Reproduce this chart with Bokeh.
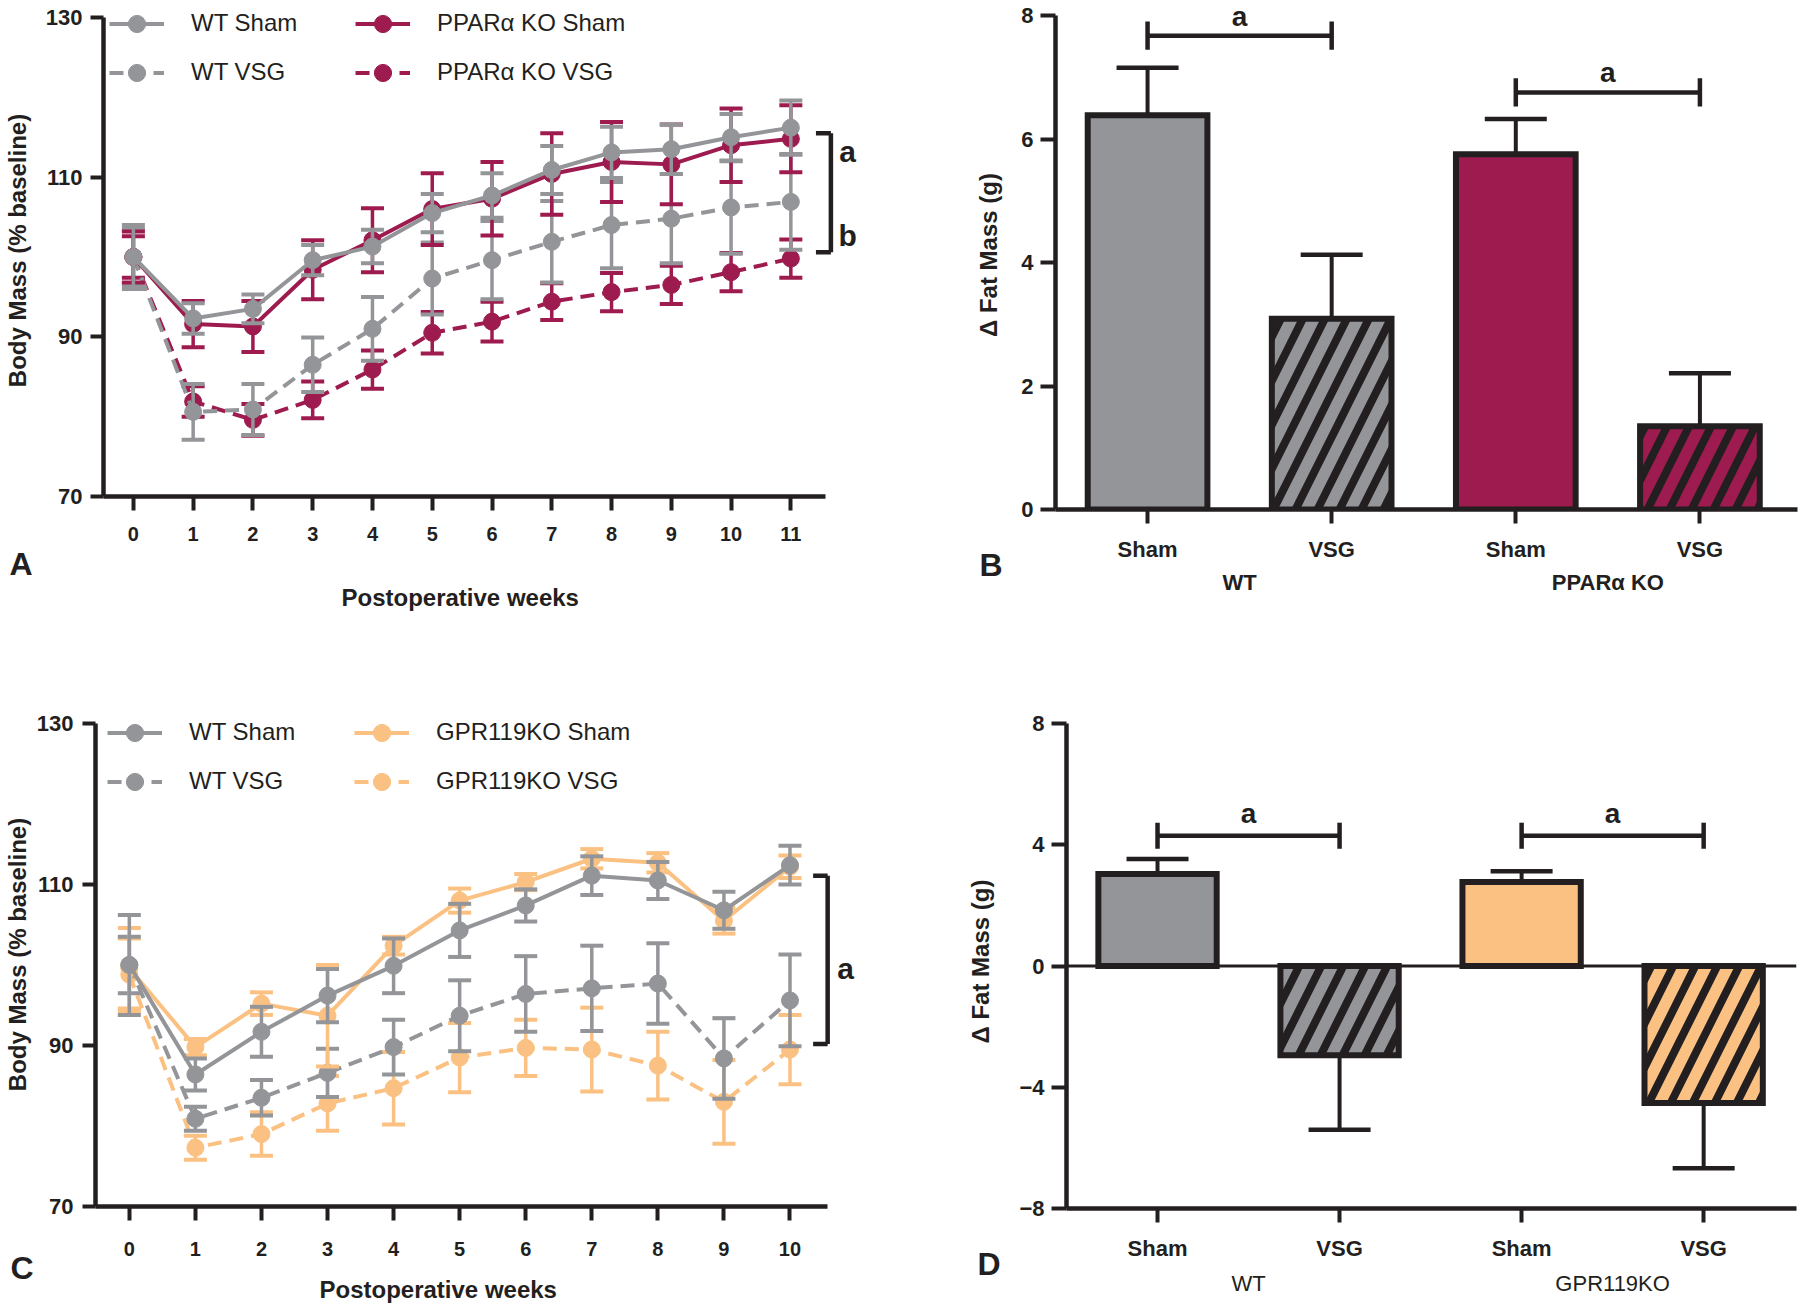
from bokeh.plotting import figure
from bokeh.layouts import column, row
from bokeh.models import Legend, LegendItem, FixedTicker, LinearAxis, Span, Title
from bokeh.embed import file_html
from bokeh.resources import INLINE
from bokeh.core.properties import value

# ---------------- data ----------------
weeks_A = [0, 1, 2, 3, 4, 5, 6, 7, 8, 9, 10, 11]
wt_sham_A = [100.0, 92.3, 93.5, 99.6, 101.3, 105.5, 107.7, 110.9, 113.1, 113.5, 115.0, 116.2]
wt_sham_A_err = [4.0, 1.9, 1.8, 1.9, 2.1, 2.4, 2.8, 3.0, 3.2, 3.1, 2.9, 3.4]
ko_sham_A = [100.0, 91.6, 91.3, 98.4, 102.1, 106.0, 107.3, 110.4, 111.9, 111.6, 114.0, 114.8]
ko_sham_A_err = [3.2, 2.9, 3.2, 3.7, 4.0, 4.5, 4.6, 5.1, 5.0, 5.0, 4.6, 4.2]
wt_vsg_A = [100.0, 80.6, 80.9, 86.5, 91.0, 97.3, 99.6, 101.9, 104.0, 104.8, 106.2, 106.9]
wt_vsg_A_err = [3.5, 3.5, 3.2, 3.4, 4.0, 4.5, 4.9, 5.1, 5.4, 5.6, 5.8, 6.0]
ko_vsg_A = [100.0, 81.9, 79.6, 82.1, 85.9, 90.5, 91.9, 94.4, 95.6, 96.5, 98.1, 99.8]
ko_vsg_A_err = [2.6, 1.9, 2.0, 2.3, 2.4, 2.6, 2.5, 2.3, 2.4, 2.4, 2.4, 2.4]

weeks_C = [0, 1, 2, 3, 4, 5, 6, 7, 8, 9, 10]
wt_sham_C = [100.0, 86.4, 91.7, 96.2, 99.9, 104.3, 107.4, 111.1, 110.5, 106.8, 112.4]
wt_sham_C_err = [6.2, 2.0, 3.1, 3.3, 3.4, 3.3, 2.0, 2.4, 2.3, 2.3, 2.4]
ko_sham_C = [99.6, 89.8, 95.2, 93.7, 102.4, 108.0, 110.3, 113.2, 112.7, 105.5, 112.2]
ko_sham_C_err = [5.0, 1.0, 1.4, 6.3, 1.1, 1.5, 1.0, 1.2, 1.2, 1.6, 1.4]
wt_vsg_C = [100.0, 80.9, 83.5, 86.6, 89.8, 93.7, 96.4, 97.1, 97.7, 88.4, 95.6]
wt_vsg_C_err = [3.5, 1.5, 2.2, 3.0, 3.4, 4.4, 4.7, 5.3, 5.0, 5.0, 5.7]
ko_vsg_C = [98.8, 77.3, 79.0, 82.8, 84.7, 88.5, 89.7, 89.5, 87.5, 83.0, 89.5]
ko_vsg_C_err = [4.5, 1.5, 2.7, 3.4, 4.5, 4.3, 3.5, 5.2, 4.2, 5.2, 4.3]

bar_labels = ["Sham", "VSG", "Sham", "VSG"]
groups_B = ["WT", "PPARα KO"]
fat_B = [6.39, 3.09, 5.76, 1.35]
fat_B_err = [0.77, 1.04, 0.57, 0.86]
groups_D = ["WT", "GPR119KO"]
fat_D = [3.04, -2.94, 2.77, -4.52]
fat_D_err = [0.49, 2.46, 0.36, 2.15]

# ---------------- style ----------------
INK = "#231f20"
GRAY = "#939598"
CRIMSON = "#9e1b4f"
ORANGE = "#fbc182"
FONT = "Liberation Sans"
DASH = "14 8"


def make_fig(w, h, xr, yr, left, right, top, bottom):
    p = figure(width=w, height=h, x_range=xr, y_range=yr,
               min_border_left=left, min_border_right=right,
               min_border_top=top, min_border_bottom=bottom,
               output_backend="svg", toolbar_location=None,
               outline_line_color=None, background_fill_color="white",
               border_fill_color="white")
    p.frame_align = False
    p.xgrid.visible = False
    p.ygrid.visible = False
    return p


def style_axis(ax, tick_size="21px", label_size="24px", tick_out=14, standoff=8, label_standoff=10):
    ax.axis_line_width = 4.5
    ax.axis_line_color = INK
    ax.major_tick_line_width = 4
    ax.major_tick_line_color = INK
    ax.major_tick_in = 0
    ax.major_tick_out = tick_out
    ax.minor_tick_line_color = None
    ax.major_label_text_font = FONT
    ax.major_label_text_font_style = "bold"
    ax.major_label_text_font_size = tick_size
    ax.major_label_text_color = INK
    ax.major_label_standoff = standoff
    ax.axis_label_text_font = FONT
    ax.axis_label_text_font_style = "bold"
    ax.axis_label_text_font_size = label_size
    ax.axis_label_text_color = INK
    ax.axis_label_standoff = label_standoff


def below_text(p, txt, offset, standoff, size="32px", valign="bottom"):
    p.add_layout(Title(text=txt, align="left", offset=offset, standoff=standoff,
                       vertical_align=valign, text_font=FONT, text_font_style="bold",
                       text_font_size=size, text_color=INK), "below")


def draw_series(p, x, y, err, color, dashed):
    lo = [v - e for v, e in zip(y, err)]
    hi = [v + e for v, e in zip(y, err)]
    p.segment(x0=x, y0=lo, x1=x, y1=hi, line_color=color, line_width=3.5)
    p.scatter(x=list(x) + list(x), y=lo + hi, marker="dash", size=23,
              line_color=color, line_width=4)
    ln = p.line(x, y, line_color=color, line_width=4,
                line_dash=DASH if dashed else "solid")
    mk = p.scatter(x, y, marker="circle", size=17, fill_color=color, line_color=color)
    return [ln, mk]


def add_legend(p, items, vx, vy, label_width):
    lg = Legend(items=[LegendItem(label=lab, renderers=r) for lab, r in items],
                location=(vx, vy), orientation="vertical", nrows=2,
                glyph_width=55, glyph_height=43, label_height=43,
                label_standoff=27, spacing=6, padding=0, margin=0,
                label_width=label_width,
                border_line_color=None, background_fill_alpha=0,
                label_text_font=FONT, label_text_font_size="24px",
                label_text_color=INK)
    p.add_layout(lg)


def sig_text(p, xs, ys, texts, dy=-12, size="30px"):
    p.text(x=xs, y=ys, text=texts, text_font=value(FONT), text_font_style="bold",
           text_font_size=size, text_align="center", text_baseline="alphabetic",
           y_offset=dy, text_color=INK)


def draw_bars(p, vals, errs, colors):
    x = list(range(len(vals)))
    tips = [v + e if v >= 0 else v - e for v, e in zip(vals, errs)]
    p.segment(x0=x, y0=vals, x1=x, y1=tips, line_color=INK, line_width=4)
    p.scatter(x=x, y=tips, marker="dash", size=62, line_color=INK, line_width=4.5)
    p.vbar(x=x, width=0.65, top=vals, bottom=0, fill_color=colors,
           line_color=INK, line_width=6, line_join="miter",
           hatch_pattern=[" ", "/", " ", "/"], hatch_color=INK,
           hatch_weight=8, hatch_scale=44)


def bar_axes(p, groups, ylabel, yticks, ybounds, std1, std2, lab_std, group_bold,
             letter, letter_offset):
    style_axis(p.yaxis[0], tick_size="22px", label_size="24px", tick_out=15,
               standoff=7, label_standoff=lab_std)
    p.yaxis.ticker = FixedTicker(ticks=yticks)
    p.yaxis.bounds = ybounds
    p.yaxis.axis_label = ylabel
    style_axis(p.xaxis[0], tick_size="22px", tick_out=14, standoff=std1)
    p.xaxis.ticker = FixedTicker(ticks=[0, 1, 2, 3])
    p.xaxis.major_label_overrides = {i: lab for i, lab in enumerate(bar_labels)}
    # panel letter sits between the bar labels and the group labels
    below_text(p, letter, letter_offset, -38, valign="middle")
    grp = LinearAxis(ticker=FixedTicker(ticks=[0.5, 2.5]),
                     major_label_overrides={0.5: groups[0], 2.5: groups[1]})
    style_axis(grp, tick_size="22px", tick_out=0, standoff=std2)
    grp.axis_line_color = None
    grp.major_tick_line_color = None
    grp.major_label_text_font_style = "bold" if group_bold else "normal"
    p.add_layout(grp, "below")


def brackets(p, pairs, level, half_h, dy):
    x0 = [a for a, b in pairs]
    x1 = [b for a, b in pairs]
    p.segment(x0=x0, y0=level, x1=x1, y1=level, line_color=INK, line_width=4.5)
    ends = x0 + x1
    lv = level + level
    p.segment(x0=ends, y0=[v - half_h for v in lv], x1=ends, y1=[v + half_h for v in lv],
              line_color=INK, line_width=4.5)
    sig_text(p, [(a + b) / 2 for a, b in pairs], level, ["a"] * len(pairs), dy=dy, size="28px")


# ---------------- Panel A ----------------
pA = make_fig(900, 640, (-0.5, 12.5), (70, 131.625), 100, 20, 4, 144)
style_axis(pA.xaxis[0], tick_size="20px", tick_out=14, standoff=16)
style_axis(pA.yaxis[0], tick_size="22px", label_size="24px", tick_out=13, standoff=8, label_standoff=12)
pA.xaxis.ticker = FixedTicker(ticks=weeks_A)
pA.xaxis.bounds = (-0.5, 11.58)
pA.yaxis.ticker = FixedTicker(ticks=[70, 90, 110, 130])
pA.yaxis.bounds = (70, 130)
pA.yaxis.axis_label = "Body Mass (% baseline)"
below_text(pA, "A", -94, 0)
below_text(pA, "Postoperative weeks", 238, 0, size="24px")
rA_kv = draw_series(pA, weeks_A, ko_vsg_A, ko_vsg_A_err, CRIMSON, True)
rA_wv = draw_series(pA, weeks_A, wt_vsg_A, wt_vsg_A_err, GRAY, True)
rA_ks = draw_series(pA, weeks_A, ko_sham_A, ko_sham_A_err, CRIMSON, False)
rA_ws = draw_series(pA, weeks_A, wt_sham_A, wt_sham_A_err, GRAY, False)
add_legend(pA, [("WT Sham", rA_ws), ("WT VSG", rA_wv),
                ("PPARα KO Sham", rA_ks), ("PPARα KO VSG", rA_kv)], 6, 402.5, 158)
# significance bracket (a: sham groups, b: VSG groups)
bxA, btA = 11.67, 11.42
pA.segment(x0=[bxA], y0=[100.6], x1=[bxA], y1=[115.5], line_color=INK, line_width=4.5)
pA.segment(x0=[btA, btA], y0=[115.5, 100.6], x1=[bxA, bxA], y1=[115.5, 100.6],
           line_color=INK, line_width=4.5)
sig_text(pA, [11.95, 11.95], [113.0, 102.4], ["a", "b"], dy=-2)

# ---------------- Panel B ----------------
pB = make_fig(900, 640, (-0.5, 3.53), (0, 8.25), 155, 3, 0, 131)
bar_axes(pB, groups_B, "Δ Fat Mass (g)", [0, 2, 4, 6, 8], (0, 8), 13, 5, 16, True, "B", -76)
draw_bars(pB, fat_B, fat_B_err, [GRAY, GRAY, CRIMSON, CRIMSON])
brackets(pB, [(0, 1)], [7.68], 0.23, -19)
brackets(pB, [(2, 3)], [6.76], 0.23, -20)

# ---------------- Panel C ----------------
pC = make_fig(900, 665, (-0.512, 11.37), (70, 132.61), 91, 20, 62, 99)
style_axis(pC.xaxis[0], tick_size="20px", tick_out=14, standoff=21)
style_axis(pC.yaxis[0], tick_size="22px", label_size="24px", tick_out=13, standoff=9, label_standoff=3)
pC.xaxis.ticker = FixedTicker(ticks=weeks_C)
pC.xaxis.bounds = (-0.512, 10.57)
pC.yaxis.ticker = FixedTicker(ticks=[70, 90, 110, 130])
pC.yaxis.bounds = (70, 130)
pC.yaxis.axis_label = "Body Mass (% baseline)"
below_text(pC, "C", -85, -20, valign="middle")
below_text(pC, "Postoperative weeks", 224, -6, size="24px")
rC_kv = draw_series(pC, weeks_C, ko_vsg_C, ko_vsg_C_err, ORANGE, True)
rC_wv = draw_series(pC, weeks_C, wt_vsg_C, wt_vsg_C_err, GRAY, True)
rC_ks = draw_series(pC, weeks_C, ko_sham_C, ko_sham_C_err, ORANGE, False)
rC_ws = draw_series(pC, weeks_C, wt_sham_C, wt_sham_C_err, GRAY, False)
add_legend(pC, [("WT Sham", rC_ws), ("WT VSG", rC_wv),
                ("GPR119KO Sham", rC_ks), ("GPR119KO VSG", rC_kv)], 12, 403.5, 159)
bxC, btC = 10.57, 10.35
pC.segment(x0=[bxC], y0=[90.2], x1=[bxC], y1=[111.1], line_color=INK, line_width=4.5)
pC.segment(x0=[btC, btC], y0=[111.1, 90.2], x1=[bxC, bxC], y1=[111.1, 90.2],
           line_color=INK, line_width=4.5)
sig_text(pC, [10.84], [99.3], ["a"], dy=-2)

# ---------------- Panel D ----------------
pD = make_fig(900, 665, (-0.5, 3.51), (-8, 8.3), 166, 4, 74, 97)
bar_axes(pD, groups_D, "Δ Fat Mass (g)", [-8, -4, 0, 4, 8], (-8, 8), 13, 7, 22, False, "D", -89)
draw_bars(pD, fat_D, fat_D_err, [GRAY, GRAY, ORANGE, ORANGE])
pD.add_layout(Span(location=0, dimension="width", line_color=INK, line_width=3))
brackets(pD, [(0, 1), (2, 3)], [4.3, 4.3], 0.43, -22)

layout = column(row(pA, pB), row(pC, pD))
open("out.html", "w").write(file_html(layout, INLINE, title="Body mass and fat mass"))
